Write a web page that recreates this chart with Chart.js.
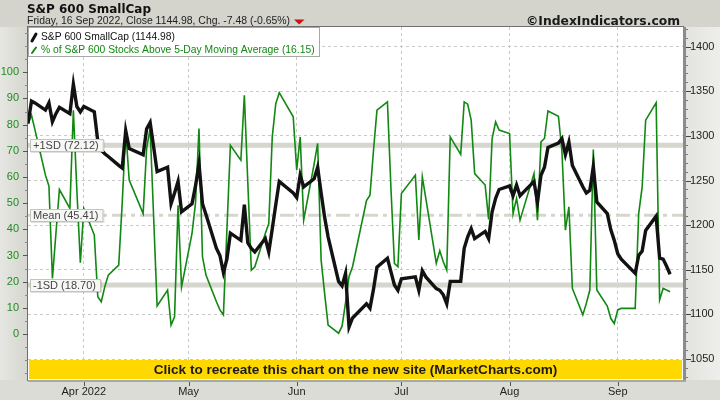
<!DOCTYPE html>
<html><head><meta charset="utf-8">
<script src="https://cdn.jsdelivr.net/npm/chart.js@4.4.0/dist/chart.umd.min.js"></script>
<style>html,body{margin:0;padding:0;background:#dadad2;}#wrap{width:720px;height:400px;position:relative;}</style>
</head><body><div id="wrap"><canvas id="c" width="720" height="400"></canvas></div>
<script>
// ---------- data ----------
const dates = [
'2022-03-16','2022-03-17','2022-03-18','2022-03-21','2022-03-22','2022-03-23','2022-03-24','2022-03-25','2022-03-28','2022-03-29','2022-03-30','2022-03-31',
'2022-04-01','2022-04-04','2022-04-05','2022-04-06','2022-04-07','2022-04-08','2022-04-11','2022-04-12','2022-04-13','2022-04-14','2022-04-18','2022-04-19','2022-04-20','2022-04-21','2022-04-22','2022-04-25','2022-04-26','2022-04-27','2022-04-28','2022-04-29',
'2022-05-02','2022-05-03','2022-05-04','2022-05-05','2022-05-06','2022-05-09','2022-05-10','2022-05-11','2022-05-12','2022-05-13','2022-05-16','2022-05-17','2022-05-18','2022-05-19','2022-05-20','2022-05-23','2022-05-24','2022-05-25','2022-05-26','2022-05-27','2022-05-31',
'2022-06-01','2022-06-02','2022-06-03','2022-06-06','2022-06-07','2022-06-08','2022-06-09','2022-06-10','2022-06-13','2022-06-14','2022-06-15','2022-06-16','2022-06-17','2022-06-21','2022-06-22','2022-06-23','2022-06-24','2022-06-27','2022-06-28','2022-06-29','2022-06-30',
'2022-07-01','2022-07-05','2022-07-06','2022-07-07','2022-07-08','2022-07-11','2022-07-12','2022-07-13','2022-07-14','2022-07-15','2022-07-18','2022-07-19','2022-07-20','2022-07-21','2022-07-22','2022-07-25','2022-07-26','2022-07-27','2022-07-28','2022-07-29',
'2022-08-01','2022-08-02','2022-08-03','2022-08-04','2022-08-05','2022-08-08','2022-08-09','2022-08-10','2022-08-11','2022-08-12','2022-08-15','2022-08-16','2022-08-17','2022-08-18','2022-08-19','2022-08-22','2022-08-23','2022-08-24','2022-08-25','2022-08-26','2022-08-29','2022-08-30','2022-08-31',
'2022-09-01','2022-09-02','2022-09-06','2022-09-07','2022-09-08','2022-09-09','2022-09-12','2022-09-13','2022-09-14','2022-09-15','2022-09-16'];

const smallCap = [
1314,1339,1337,1329,1337,1316,1325,1332,1325,1358,1333,1327,
1333,1327,1294,1284,1280,1277,1267,1264,1306,1286,1279,1308,1315,1288,1260,1265,1224,1236,1249,1215,
1224,1244,1269,1224,1212,1174,1166,1147,1162,1191,1183,1223,1180,1174,1170,1185,1170,1196,1223,1249,1236,
1231,1256,1243,1252,1265,1236,1209,1187,1137,1132,1146,1086,1096,1112,1107,1128,1153,1163,1148,1133,1127,
1140,1142,1127,1149,1142,1129,1127,1122,1112,1137,1137,1174,1187,1196,1185,1193,1185,1215,1230,1240,
1244,1233,1245,1233,1237,1249,1226,1256,1265,1287,1292,1297,1279,1293,1267,1243,1236,1239,1266,1226,1213,1195,1183,
1168,1162,1146,1166,1171,1194,1210,1163,1162,1154,1144.98];

const pctAbove5Day = [
80.4,83.6,78,60.7,56.5,21.2,38.4,55.2,48,85.5,55,27.2,
48,37.8,14.2,12.3,18,22.5,26.3,50,78,58.8,46,71,78.5,44.8,10.7,16.8,3.4,6.6,49.2,18,
38.4,50,78.5,29.5,22.5,12.3,9.2,7.3,39.7,72.1,66.4,91.2,57.5,24.4,25.7,38.4,42.2,75.3,88,92.2,83,
62.6,75.3,43.5,65,72.8,28.2,15.5,3.4,0.3,3,12,22,25.7,51,53,70,85.5,88.7,56,27,25.7,
53.7,60.7,35.9,60,51.8,27,31.8,27.6,24.4,75.3,68.6,88.7,87.8,81.7,61.3,56.9,43.8,74.7,81,77.9,
76.6,46,51.8,43.5,48,61.3,43.5,73.4,74.7,85.2,83.2,70,39.7,48.6,17.4,7.3,11.7,16.8,70.5,16.8,10.7,6,4,
9.2,9.8,9.8,46,56.2,81.7,88.3,13,17.4,16.8,16.15];

const monthTickDates = ['2022-04-01','2022-05-01','2022-06-01','2022-07-01','2022-08-01','2022-09-01'];
const monthTickLabels = ['Apr 2022','May','Jun','Jul','Aug','Sep'];
const leftTickValues = [0,10,20,30,40,50,60,70,80,90,100];
const rightTickValues = [1050,1100,1150,1200,1250,1300,1350,1400];
const sdLevels = [72.12, 45.41, 18.70];
const sdLabels = ['+1SD (72.12)','Mean (45.41)','-1SD (18.70)'];

const titleText = 'S&P 600 SmallCap';
const subtitleText = 'Friday, 16 Sep 2022, Close 1144.98, Chg. -7.48 (-0.65%)';
const copyrightText = '\u00A9IndexIndicators.com';
const legendTexts = ['S&P 600 SmallCap (1144.98)','% of S&P 600 Stocks Above 5-Day Moving Average (16.15)'];
const bannerText = 'Click to recreate this chart on the new site (MarketCharts.com)';

// ---------- helpers ----------
const base = Date.UTC(2022,2,16);
const dayOf = s => (Date.parse(s+'T00:00:00Z') - base)/86400000;
const xs = dates.map(dayOf);
const blackPts = xs.map((x,i)=>({x, y: smallCap[i]}));
const greenPts = xs.map((x,i)=>({x, y: pctAbove5Day[i]}));

function fitFont(ctx, text, weight, family, target, maxSize){
  let size = maxSize;
  ctx.font = weight+' '+size+'px '+family;
  const w = ctx.measureText(text).width;
  size = Math.min(maxSize, size*target/w);
  return weight+' '+size.toFixed(2)+'px '+family;
}

const GREEN = '#118811';
const GRID = '#c9c9c9';

const bgPlugin = {
  id:'bg',
  beforeDraw(chart){
    const {ctx, chartArea:a} = chart;
    ctx.save();
    let g = ctx.createLinearGradient(0,0,0,400);
    g.addColorStop(0,'#d4d4cc'); g.addColorStop(1,'#dcdcd6');
    ctx.fillStyle = g; ctx.fillRect(0,0,720,400);
    g = ctx.createLinearGradient(0,0,a.left,0);
    g.addColorStop(0,'#e6e6e2'); g.addColorStop(1,'#d6d6d0');
    ctx.fillStyle = g; ctx.fillRect(0,a.top,a.left,a.bottom-a.top);
    g = ctx.createLinearGradient(a.right,0,720,0);
    g.addColorStop(0,'#e2e2de'); g.addColorStop(1,'#eeeeec');
    ctx.fillStyle = g; ctx.fillRect(a.right,a.top,720-a.right,a.bottom-a.top);
    ctx.fillStyle = '#ffffff';
    ctx.fillRect(a.left,a.top,a.right-a.left,a.bottom-a.top);
    ctx.restore();
  },
  beforeDatasetsDraw(chart){
    const {ctx, chartArea:a, scales} = chart;
    const yL = scales.yL;
    ctx.save();
    ctx.beginPath(); ctx.rect(a.left,a.top,a.right-a.left,a.bottom-a.top); ctx.clip();
    ctx.strokeStyle = '#d6d6ce';
    sdLevels.forEach((v,i)=>{
      const y = yL.getPixelForValue(v);
      ctx.beginPath();
      if(i===1){ ctx.lineWidth = 3; ctx.setLineDash([14,5,4,5]); }
      else { ctx.lineWidth = 5; ctx.setLineDash([]); }
      ctx.moveTo(a.left,y); ctx.lineTo(a.right,y); ctx.stroke();
    });
    ctx.restore();
  },
  afterDatasetsDraw(chart){
    const {ctx, chartArea:a, scales} = chart;
    const yL = scales.yL;
    ctx.save();
    ctx.font = '11px "Liberation Sans", Arial, sans-serif';
    ctx.textBaseline = 'middle';
    sdLevels.forEach((v,i)=>{
      const y = Math.round(yL.getPixelForValue(v));
      const w = ctx.measureText(sdLabels[i]).width + 8;
      ctx.fillStyle = 'rgba(0,0,0,0.12)';
      ctx.fillRect(a.left+3, y-5, w, 13);
      ctx.fillStyle = '#f7f7f5';
      ctx.fillRect(a.left+2, y-6, w, 13);
      ctx.strokeStyle = '#c4c4bc'; ctx.lineWidth = 1;
      ctx.strokeRect(a.left+2.5, y-5.5, w-1, 12);
      ctx.fillStyle = '#444';
      ctx.fillText(sdLabels[i], a.left+5, y+0.5);
    });
    ctx.restore();
  },
  afterDraw(chart){
    const {ctx, chartArea:a, scales} = chart;
    ctx.save();
    const bTop = 360, bBot = a.bottom-1;
    ctx.fillStyle = '#ffd800';
    ctx.fillRect(a.left+1, bTop, a.right-a.left-2, bBot-bTop);
    ctx.fillStyle = '#1a1a1a';
    ctx.font = fitFont(ctx, bannerText, 'bold', '"Liberation Sans", Arial, sans-serif', 404, 14);
    ctx.textAlign = 'center'; ctx.textBaseline = 'middle';
    ctx.fillText(bannerText, (a.left+a.right)/2, (bTop+bBot)/2+0.5);
    ctx.strokeStyle = '#6e6e6e'; ctx.lineWidth = 1;
    ctx.strokeRect(a.left-0.5, a.top-0.5, a.right-a.left+1, a.bottom-a.top+1);
    ctx.fillStyle = '#8c8c8c';
    ctx.fillRect(a.right, a.top, 3, a.bottom-a.top+1);
    ctx.fillStyle = '#a9a9a4';
    ctx.fillRect(a.left, a.bottom, a.right-a.left+3, 2);
    const yL = scales.yL, yR = scales.yR, x = scales.x;
    ctx.lineWidth = 1;
    for(let v=-15; v<=115; v+=5){
      const y = Math.round(yL.getPixelForValue(v))+0.5;
      if(y<a.top||y>a.bottom) continue;
      const major = v%10===0 && v>=0 && v<=100;
      ctx.strokeStyle = major ? '#555' : '#888';
      ctx.beginPath(); ctx.moveTo(a.left-(major?5:3), y); ctx.lineTo(a.left, y); ctx.stroke();
    }
    for(let v=1030; v<=1420; v+=10){
      const y = Math.round(yR.getPixelForValue(v))+0.5;
      if(y<a.top||y>a.bottom) continue;
      const major = v%50===0;
      ctx.strokeStyle = major ? '#444' : '#777';
      ctx.beginPath(); ctx.moveTo(a.right+3, y); ctx.lineTo(a.right+3+(major?5:2), y); ctx.stroke();
    }
    monthTickDates.forEach(d=>{
      const px = Math.round(x.getPixelForValue(dayOf(d)))+0.5;
      ctx.strokeStyle = '#555';
      ctx.beginPath(); ctx.moveTo(px, a.bottom+2); ctx.lineTo(px, a.bottom+6); ctx.stroke();
    });
    ctx.textAlign = 'left'; ctx.textBaseline = 'alphabetic';
    ctx.fillStyle = '#111';
    ctx.font = fitFont(ctx, titleText, 'bold', '"DejaVu Sans", Verdana, sans-serif', 124, 13);
    ctx.fillText(titleText, 27, 12.5);
    ctx.fillStyle = '#222';
    ctx.font = fitFont(ctx, subtitleText, 'normal', '"Liberation Sans", Arial, sans-serif', 263, 12);
    ctx.fillText(subtitleText, 27, 24);
    ctx.fillStyle = '#d01010';
    ctx.beginPath(); ctx.moveTo(294,19.5); ctx.lineTo(304.5,19.5); ctx.lineTo(299.2,24.5); ctx.closePath(); ctx.fill();
    ctx.textAlign = 'right'; ctx.fillStyle = '#1a1a1a';
    ctx.font = fitFont(ctx, copyrightText, 'bold', '"DejaVu Sans", Verdana, sans-serif', 154, 13);
    ctx.fillText(copyrightText, 680, 24.5);
    ctx.fillStyle = '#ffffff';
    ctx.fillRect(a.left, a.top, 291, 29);
    ctx.strokeStyle = '#a8a8a8'; ctx.lineWidth = 1;
    ctx.strokeRect(a.left+0.5, a.top+0.5, 291, 29);
    ctx.textAlign = 'left';
    ctx.lineCap = 'round';
    ctx.strokeStyle = '#111'; ctx.lineWidth = 3;
    ctx.beginPath(); ctx.moveTo(32,41); ctx.lineTo(36,34); ctx.stroke();
    ctx.strokeStyle = GREEN; ctx.lineWidth = 2;
    ctx.beginPath(); ctx.moveTo(32,53); ctx.lineTo(36,47.5); ctx.stroke();
    ctx.fillStyle = '#111';
    ctx.font = fitFont(ctx, legendTexts[0], 'normal', '"Liberation Sans", Arial, sans-serif', 134, 12);
    ctx.fillText(legendTexts[0], 41, 39.5);
    ctx.fillStyle = GREEN;
    ctx.font = fitFont(ctx, legendTexts[1], 'normal', '"Liberation Sans", Arial, sans-serif', 274, 12);
    ctx.fillText(legendTexts[1], 41, 53);
    ctx.restore();
  }
};

new Chart(document.getElementById('c'), {
  type: 'line',
  data: {
    datasets: [
      { label: legendTexts[1], data: greenPts, yAxisID: 'yL', borderColor: GREEN, borderWidth: 1.6,
        pointRadius: 0, tension: 0, fill: false, order: 2 },
      { label: legendTexts[0], data: blackPts, yAxisID: 'yR', borderColor: '#121212', borderWidth: 3.4,
        pointRadius: 0, tension: 0, fill: false, order: 1, borderJoinStyle: 'miter' }
    ]
  },
  options: {
    responsive: false, animation: false, devicePixelRatio: 1,
    layout: { padding: { top: 27, left: 0, right: 0, bottom: 0 } },
    plugins: { legend: { display: false }, title: { display: false }, tooltip: { enabled: false } },
    scales: {
      x: {
        type: 'linear', position: 'bottom', min: 0, max: 187.7,
        afterBuildTicks: s => { s.ticks = monthTickDates.map(d => ({ value: dayOf(d) })); },
        afterFit: s => { s.height = 20; },
        ticks: { autoSkip: false, maxRotation: 0, padding: 5, color: '#222',
          font: { family: '"Liberation Sans", Arial, sans-serif', size: 11 },
          callback: (v, i) => monthTickLabels[i] },
        grid: { color: GRID, drawTicks: false, lineWidth: 1 },
        border: { display: false, dash: [3, 3] }
      },
      yL: {
        type: 'linear', position: 'left', min: -17.58, max: 117.3,
        afterBuildTicks: s => { s.ticks = leftTickValues.map(v => ({ value: v })); },
        afterFit: s => { s.width = 28; },
        ticks: { padding: 9, color: '#1e8c1e', font: { family: '"Liberation Sans", Arial, sans-serif', size: 11 },
          callback: v => String(v) },
        grid: { drawOnChartArea: false, drawTicks: false },
        border: { display: false }
      },
      yR: {
        type: 'linear', position: 'right', min: 1026.5, max: 1422.1,
        afterBuildTicks: s => { s.ticks = rightTickValues.map(v => ({ value: v })); },
        afterFit: s => { s.width = 37; },
        ticks: { padding: 7, color: '#222', font: { family: '"Liberation Sans", Arial, sans-serif', size: 11 },
          callback: v => String(v) },
        grid: { drawOnChartArea: true, drawTicks: false, color: GRID },
        border: { display: false, dash: [3, 3] }
      }
    }
  },
  plugins: [bgPlugin]
});
</script>
</body></html>
